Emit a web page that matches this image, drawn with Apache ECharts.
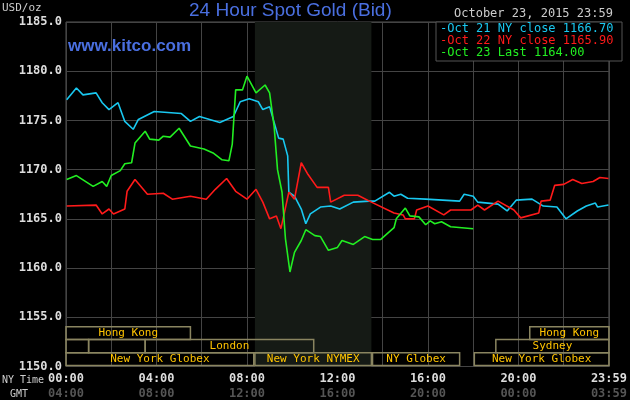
<!DOCTYPE html>
<html lang="en">
  <head>
    <meta charset="UTF-8" />
    <title>24 Hour Spot Gold</title>
    <script src="https://cdn.jsdelivr.net/npm/echarts@6/dist/echarts.min.js"></script>
    <style>
      body { margin: 0; background: #000; }
      #chart { width: 630px; height: 400px; }
    </style>
  </head>
  <body>
    <div id="chart"></div>
    <script>
      // hours (NY time) and prices
      var oct21Hours = [0.03, 0.46, 0.75, 1.33, 1.6, 1.9, 2.3, 2.6, 2.97, 3.2, 3.9, 5.1, 5.5, 5.9, 6.8, 7.4, 7.7, 8.1, 8.5, 8.7, 9.0, 9.2, 9.4, 9.6, 9.8, 9.85, 10.1, 10.4, 10.6, 10.8, 11.25, 11.7, 12.1, 12.7, 13.4, 13.65, 14.3, 14.5, 14.8, 15.1, 15.9, 17.4, 17.6, 18.0, 18.2, 19.1, 19.5, 19.9, 20.6, 21.1, 21.7, 22.1, 22.6, 23.0, 23.4, 23.5, 23.98];
      var oct21Values = [1177.1, 1178.3, 1177.6, 1177.8, 1176.8, 1176.1, 1176.8, 1174.9, 1174.1, 1175.1, 1175.9, 1175.7, 1174.9, 1175.4, 1174.8, 1175.4, 1176.9, 1177.2, 1176.9, 1176.1, 1176.4, 1174.8, 1173.2, 1173.1, 1171.4, 1167.7, 1167.3, 1166.0, 1164.5, 1165.5, 1166.2, 1166.3, 1166.0, 1166.7, 1166.8, 1166.8, 1167.7, 1167.3, 1167.5, 1167.1, 1167.0, 1166.8, 1167.5, 1167.3, 1166.7, 1166.5, 1165.8, 1166.9, 1167.0, 1166.3, 1166.2, 1165.0, 1165.8, 1166.3, 1166.6, 1166.2, 1166.4];

      var oct22Hours = [0.03, 1.33, 1.6, 1.9, 2.1, 2.6, 2.7, 3.05, 3.6, 4.3, 4.7, 5.5, 6.2, 6.6, 7.1, 7.5, 8.0, 8.4, 8.7, 9.0, 9.3, 9.5, 9.85, 10.1, 10.4, 10.7, 11.1, 11.6, 11.7, 12.3, 12.9, 13.5, 14.5, 14.9, 15.0, 15.4, 15.5, 16.0, 16.7, 17.0, 17.9, 18.2, 18.5, 19.1, 19.8, 20.1, 20.9, 21.0, 21.4, 21.6, 22.0, 22.4, 22.8, 23.3, 23.6, 23.98];
      var oct22Values = [1166.3, 1166.4, 1165.5, 1166.0, 1165.5, 1166.0, 1167.8, 1169.0, 1167.5, 1167.6, 1167.0, 1167.3, 1167.0, 1168.0, 1169.1, 1167.8, 1167.0, 1168.0, 1166.7, 1165.0, 1165.3, 1164.0, 1167.7, 1167.0, 1170.7, 1169.5, 1168.2, 1168.2, 1166.7, 1167.4, 1167.4, 1166.7, 1165.6, 1165.4, 1165.0, 1165.0, 1165.9, 1166.3, 1165.4, 1165.9, 1165.9, 1166.4, 1165.9, 1166.8, 1165.9, 1165.1, 1165.6, 1166.8, 1166.9, 1168.4, 1168.5, 1169.0, 1168.6, 1168.8, 1169.2, 1169.1];

      var oct23Hours = [0.03, 0.46, 1.2, 1.6, 1.8, 2.0, 2.4, 2.6, 2.9, 3.05, 3.5, 3.7, 4.1, 4.3, 4.6, 5.0, 5.5, 6.1, 6.5, 6.9, 7.2, 7.35, 7.5, 7.8, 8.0, 8.4, 8.8, 9.0, 9.2, 9.35, 9.55, 9.7, 9.9, 10.1, 10.4, 10.6, 11.0, 11.25, 11.6, 12.0, 12.2, 12.7, 13.2, 13.55, 13.9, 14.5, 14.6, 15.0, 15.2, 15.6, 15.9, 16.1, 16.3, 16.6, 17.0, 18.0];
      var oct23Values = [1169.0, 1169.4, 1168.3, 1168.8, 1168.3, 1169.4, 1169.9, 1170.6, 1170.7, 1172.7, 1173.9, 1173.1, 1173.0, 1173.4, 1173.3, 1174.2, 1172.4, 1172.1, 1171.7, 1171.0, 1170.9, 1172.6, 1178.1, 1178.1, 1179.5, 1177.8, 1178.6, 1177.8, 1174.4, 1170.0, 1167.7, 1163.0, 1159.6, 1161.6, 1162.8, 1163.9, 1163.3, 1163.2, 1161.8, 1162.1, 1162.8, 1162.4, 1163.2, 1162.9, 1162.9, 1164.1, 1165.0, 1166.1, 1165.3, 1165.2, 1164.4, 1164.8, 1164.5, 1164.7, 1164.2, 1164.0];

      var legendTexts = ["Oct 21 NY close 1166.70", "Oct 22 NY close 1165.90", "Oct 23 Last 1164.00"];
      var lineColors = ["#19c8f0", "#ff1a1a", "#22ee22"];

      // trading sessions: row 0 = top row
      var sessionNames = ["Hong Kong", "Hong Kong", "", "", "London", "Sydney", "New York Globex", "New York NYMEX", "NY Globex", "New York Globex"];
      var sessionStarts = [0, 20.5, 0, 1, 3.5, 19, 0, 8.35, 13.55, 18.05];
      var sessionEnds = [5.5, 24, 1, 3.5, 10.95, 24, 8.3, 13.5, 17.4, 24];
      var sessionRows = [0, 0, 1, 1, 1, 1, 2, 2, 2, 2];
      var rowTops = [1154.05, 1152.75, 1151.4];
      var rowBottoms = [1152.75, 1151.4, 1150.1];

      var xTicks = [0, 4, 8, 12, 16, 20, 24];

      var mono = "DejaVu Sans Mono";
      var blue = "#4a6fe0";

      function pairs(h, v) {
        return h.map(function (x, i) { return [x, v[i]]; });
      }
      function hhmm(h, off) {
        if (h === 24) return off ? "03:59" : "23:59";
        var t = (h + off) % 24;
        return (t < 10 ? "0" : "") + t + ":00";
      }

      var sessionData = sessionNames.map(function (n, i) {
        return [sessionStarts[i], sessionEnds[i], rowTops[sessionRows[i]], rowBottoms[sessionRows[i]], n];
      });

      var mCharts = echarts.init(document.getElementById("chart"));
      mCharts.setOption({
        backgroundColor: "#000",
        animation: false,
        grid: { left: 66, right: 8, top: 22, bottom: 32, show: true, borderColor: "#555", borderWidth: 1 },
        xAxis: {
          type: "value", min: 0, max: 24, interval: 2,
          axisLine: { show: false }, axisTick: { show: false },
          splitLine: { lineStyle: { color: "#444", width: 1 } },
          axisLabel: {
            margin: 5,
            formatter: function (v) {
              if (xTicks.indexOf(v) < 0) return "";
              return "{a|" + hhmm(v, 0) + "}\n{b|" + hhmm(v, 4) + "}";
            },
            rich: {
              a: { color: "#ddd", fontFamily: mono, fontWeight: "bold", fontSize: 12, lineHeight: 15 },
              b: { color: "#555", fontFamily: mono, fontWeight: "bold", fontSize: 12, lineHeight: 15 }
            }
          }
        },
        yAxis: {
          type: "value", min: 1150, max: 1185, interval: 5,
          axisLine: { show: false }, axisTick: { show: false },
          splitLine: { lineStyle: { color: "#444", width: 1 } },
          axisLabel: {
            margin: 4, color: "#ddd", fontFamily: mono, fontWeight: "bold", fontSize: 12,
            formatter: function (v) { return v.toFixed(1); }
          }
        },
        graphic: [
          { type: "text", left: 2, top: 3, style: { text: "USD/oz", fill: "#ccc", font: "11px " + mono } },
          { type: "text", left: 189, top: 1, style: { text: "24 Hour Spot Gold (Bid)", fill: blue, font: "19px 'Liberation Sans'" } },
          { type: "text", left: 454, top: 8, style: { text: "October 23, 2015 23:59", fill: "#ccc", font: "12px " + mono } },
          { type: "text", left: 68, top: 38, style: { text: "www.kitco.com", fill: blue, font: "bold 17px 'Liberation Sans'" } },
          { type: "rect", shape: { x: 436, y: 22, width: 186, height: 39 }, style: { fill: "#000", stroke: "#555", lineWidth: 1 }, z: 10 },
          { type: "text", left: 440, top: 23, z: 11, style: { text: "-" + legendTexts[0], fill: lineColors[0], font: "12px " + mono } },
          { type: "text", left: 440, top: 35, z: 11, style: { text: "-" + legendTexts[1], fill: lineColors[1], font: "12px " + mono } },
          { type: "text", left: 440, top: 47, z: 11, style: { text: "-" + legendTexts[2], fill: lineColors[2], font: "12px " + mono } },
          { type: "text", left: 2, top: 375, style: { text: "NY Time", fill: "#ccc", font: "10px " + mono } },
          { type: "text", left: 10, top: 389, style: { text: "GMT", fill: "#ccc", font: "10px " + mono } }
        ],
        series: [
          {
            type: "line", data: [], silent: true,
            markArea: { silent: true, itemStyle: { color: "#151a15" }, data: [[{ xAxis: 8.35 }, { xAxis: 13.5 }]] }
          },
          {
            type: "custom", silent: true, data: sessionData, z: 3,
            renderItem: function (params, api) {
              var p1 = api.coord([api.value(0), api.value(2)]);
              var p2 = api.coord([api.value(1), api.value(3)]);
              return {
                type: "group",
                children: [
                  { type: "rect", shape: { x: p1[0], y: p1[1], width: p2[0] - p1[0], height: p2[1] - p1[1] }, style: { fill: "none", stroke: "#8a8560", lineWidth: 1.5 } },
                  { type: "text", style: { text: sessionData[params.dataIndex][4], x: (p1[0] + p2[0]) / 2, y: (p1[1] + p2[1]) / 2, align: "center", verticalAlign: "middle", fill: "#ffc400", font: "11px " + mono } }
                ]
              };
            }
          },
          { type: "line", data: pairs(oct21Hours, oct21Values), showSymbol: false, lineStyle: { color: lineColors[0], width: 1.6 }, z: 5 },
          { type: "line", data: pairs(oct22Hours, oct22Values), showSymbol: false, lineStyle: { color: lineColors[1], width: 1.6 }, z: 5 },
          { type: "line", data: pairs(oct23Hours, oct23Values), showSymbol: false, lineStyle: { color: lineColors[2], width: 1.6 }, z: 6 }
        ]
      });
    </script>
  </body>
</html>
